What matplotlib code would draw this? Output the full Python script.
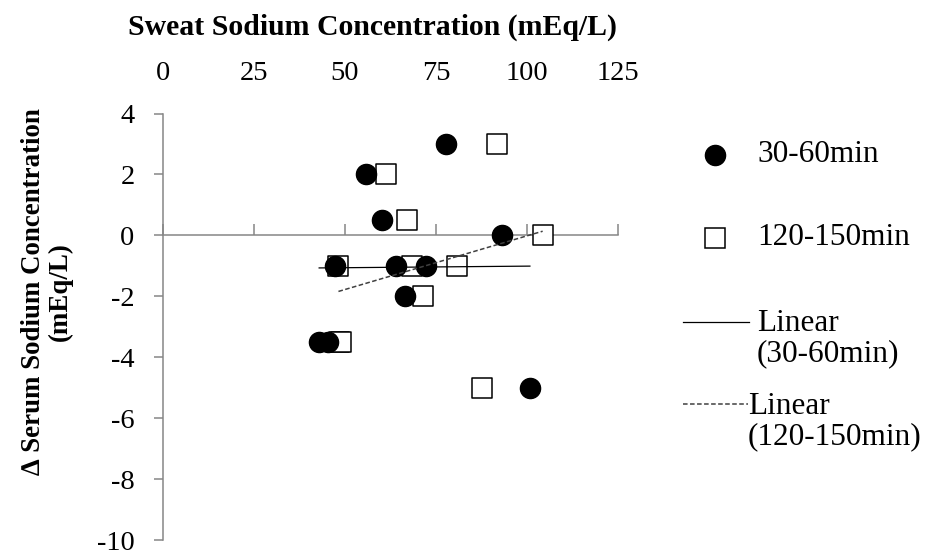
import numpy as np
import matplotlib.pyplot as plt
from matplotlib.lines import Line2D

plt.rcParams['font.family'] = ['Liberation Serif', 'DejaVu Serif']
plt.rcParams['axes.unicode_minus'] = False

# sweat Na (mEq/L) vs change in serum Na (mEq/L)
sweat_30_60 = [77.7, 55.7, 60.1, 93.1, 47.3, 63.9, 72.2, 66.5, 42.9, 45.4, 100.8]
serum_30_60 = [3, 2, 0.5, 0, -1, -1, -1, -2, -3.5, -3.5, -5]
sweat_120_150 = [91.7, 61.2, 67.1, 104.3, 48.2, 68.5, 80.9, 71.5, 48.4, 49.0, 87.7]
serum_120_150 = [3, 2, 0.5, 0, -1, -1, -1, -2, -3.5, -3.5, -5]

x_ticks = [0, 25, 50, 75, 100, 125]
y_ticks = [-10, -8, -6, -4, -2, 0, 2, 4]

W, H = 928, 558
fig = plt.figure(figsize=(W / 100, H / 100), dpi=100)
ax = fig.add_axes([163 / W, 1 - 540 / H, 455 / W, 426.5 / H])

axis_grey = '#868686'

def trend(x, y):
    k, b = np.polyfit(x, y, 1)
    xs = np.array([min(x), max(x)])
    return xs, k * xs + b

ax.scatter(sweat_120_150, serum_120_150, marker='s', s=14 ** 2, facecolor='white',
           edgecolor='black', linewidth=1.1, zorder=3)
ax.scatter(sweat_30_60, serum_30_60, marker='o', s=14.5 ** 2, color='black', zorder=4)

tx, ty = trend(sweat_30_60, serum_30_60)
ax.plot(tx, ty, color='black', lw=0.9, zorder=5)
tx, ty = trend(sweat_120_150, serum_120_150)
ax.plot(tx, ty, color='#404040', lw=1.1, ls=(0, (3, 1.6)), zorder=5)

ax.set_xlim(0, 125)
ax.set_ylim(-10, 4)
ax.set_xticks(x_ticks)
ax.set_yticks(y_ticks)
ax.set_xticklabels([str(v) for v in x_ticks])
ax.set_yticklabels([str(v) for v in y_ticks])

for side in ['top', 'right']:
    ax.spines[side].set_visible(False)
ax.spines['bottom'].set_position(('data', 0))
for side in ['bottom', 'left']:
    ax.spines[side].set_color(axis_grey)
    ax.spines[side].set_linewidth(1.1)

ax.tick_params(axis='x', direction='in', length=8, width=1.1, color=axis_grey,
               bottom=True, top=False, labelbottom=False, labeltop=True,
               labelsize=20.5, pad=20)
ax.tick_params(axis='y', direction='out', length=6.5, width=1.1, color=axis_grey,
               labelsize=20.5, pad=14)

fig.text(372 / W, 1 - 27 / H, 'Sweat Sodium Concentration (mEq/L)',
         fontsize=21.4, fontweight='bold', ha='center', va='center')
fig.text(47 / W, 1 - 292 / H, '\u2206 Serum Sodium Concentration\n(mEq/L)',
         fontsize=19.4, fontweight='bold', rotation=90, ha='center', va='center',
         multialignment='center', linespacing=1.1)

# legend on the right, laid out by hand
def px(x, y):
    return x / W, 1 - y / H

fig.add_artist(Line2D(*zip(px(715, 155)), marker='o', markersize=14.5, color='black',
                      transform=fig.transFigure))
fig.add_artist(Line2D(*zip(px(715, 238)), marker='s', markersize=14, markerfacecolor='white',
                      markeredgecolor='black', markeredgewidth=1.1, transform=fig.transFigure))
fig.add_artist(Line2D(*zip(px(683, 322), px(749, 322)), color='black', lw=0.9,
                      transform=fig.transFigure))
fig.add_artist(Line2D(*zip(px(683, 404), px(748, 404)), color='#404040', lw=1.1,
                      ls=(0, (3, 1.6)), transform=fig.transFigure))

legend_font = 22.5
fig.text(*px(757, 155), '30-60min', fontsize=legend_font, va='center')
fig.text(*px(757, 238), '120-150min', fontsize=legend_font, va='center')
fig.text(*px(757, 338.5), 'Linear\n(30-60min)', fontsize=legend_font, va='center',
         linespacing=1.05)
fig.text(*px(748, 422), 'Linear\n(120-150min)', fontsize=legend_font, va='center',
         linespacing=1.05)

fig.savefig('out.png', dpi=100)
